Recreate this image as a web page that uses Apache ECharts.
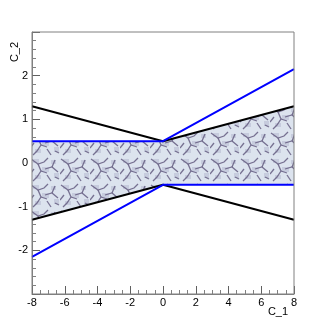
<!DOCTYPE html>
<html>
<head>
<meta charset="utf-8">
<script src="https://cdn.jsdelivr.net/npm/echarts@6/dist/echarts.min.js"></script>
<style>
  html, body { margin: 0; padding: 0; background: #fff; }
  #chart { width: 327px; height: 327px; }
</style>
</head>
<body>
<div id="chart"></div>
<script>
// x positions of the break points
const xs = [-8, 0, 8];
// black lines
const blackUpper = [1.3, 0.5, 1.3];
const blackLower = [-1.3, -0.5, -1.3];
// blue lines
const blueUpper = [0.5, 0.5, 2.15];
const blueLower = [-2.15, -0.5, -0.5];
// shaded band edges
const bandUpper = [0.5, 0.5, 1.3];
const bandLower = [-1.3, -0.5, -0.5];

// marble-ish texture tile, like the ROOT fill pattern
function makeTile() {
  const c = document.createElement('canvas');
  c.width = 30; c.height = 26;
  const g = c.getContext('2d');
  g.fillStyle = '#dce3ee';
  g.fillRect(0, 0, 30, 26);
  // soft blotches
  g.fillStyle = 'rgba(170,172,200,0.45)';
  [[3, 3, 6, 4], [12, 11, 7, 5], [21, 4, 5, 4], [24, 17, 5, 5], [5, 19, 6, 4]].forEach(r => g.fillRect(r[0], r[1], r[2], r[3]));
  g.strokeStyle = 'rgba(100,92,128,0.85)';
  g.lineWidth = 1.3;
  const strokes = [
    [[1, 3], [8, 8], [14, 6], [18, 2]],
    [[8, 8], [11, 15], [7, 21], [3, 25]],
    [[11, 15], [17, 17]],
    [[15, 13], [22, 11], [28, 16]],
    [[22, 11], [25, 4]],
    [[4, 13], [0, 18]],
    [[17, 19], [21, 25]],
    [[25, 21], [29, 23]]
  ];
  strokes.forEach(s => {
    g.beginPath();
    g.moveTo(s[0][0], s[0][1]);
    for (let i = 1; i < s.length; i++) g.lineTo(s[i][0], s[i][1]);
    g.stroke();
  });
  return c;
}

let myChart = echarts.init(document.getElementById('chart'));

const lineOf = (ys, color) => ({
  type: 'line',
  data: xs.map((x, i) => [x, ys[i]]),
  symbol: 'none',
  lineStyle: { color: color, width: 2 },
  z: 5
});

let option = {
  animation: false,
  grid: { left: 32, right: 33, top: 32, bottom: 33 },
  xAxis: {
    type: 'value',
    min: -8, max: 8, interval: 2,
    axisLine: { show: true, onZero: false, lineStyle: { color: '#808080', width: 1 } },
    axisTick: { show: true, inside: true, length: 8, lineStyle: { color: '#606060' } },
    minorTick: { show: true, splitNumber: 4, length: 4, lineStyle: { color: '#808080' } },
    splitLine: { show: false },
    axisLabel: { color: '#000', fontFamily: 'Liberation Sans', fontSize: 11, margin: 3 }
  },
  yAxis: {
    type: 'value',
    min: -3, max: 3, interval: 1,
    axisLine: { show: true, onZero: false, lineStyle: { color: '#808080', width: 1 } },
    axisTick: { show: true, inside: true, length: 8, lineStyle: { color: '#606060' } },
    minorTick: { show: true, splitNumber: 5, length: 4, lineStyle: { color: '#808080' } },
    splitLine: { show: false },
    axisLabel: { color: '#000', fontFamily: 'Liberation Sans', fontSize: 11, margin: 4,
      showMinLabel: false, showMaxLabel: false }
  },
  graphic: [
    { type: 'rect', shape: { x: 32, y: 32, width: 262, height: 262 },
      style: { fill: 'none', stroke: '#808080', lineWidth: 1 }, z: 10, silent: true },
    { type: 'text', x: 15, y: 52, rotation: Math.PI / 2,
      style: { text: 'C_2', fill: '#000', font: '11px "Liberation Sans"', align: 'center', verticalAlign: 'middle' } },
    { type: 'text', x: 278, y: 312,
      style: { text: 'C_1', fill: '#000', font: '11px "Liberation Sans"', align: 'center', verticalAlign: 'middle' } }
  ],
  series: [
    {
      type: 'custom',
      data: [0],
      z: 1,
      renderItem: (params, api) => {
        const pts = [];
        xs.forEach((x, i) => pts.push(api.coord([x, bandUpper[i]])));
        for (let i = xs.length - 1; i >= 0; i--) pts.push(api.coord([xs[i], bandLower[i]]));
        return {
          type: 'polygon',
          shape: { points: pts },
          style: { fill: { image: makeTile(), repeat: 'repeat' } }
        };
      }
    },
    lineOf(blackUpper, '#000'),
    lineOf(blackLower, '#000'),
    lineOf(blueUpper, '#0000ff'),
    lineOf(blueLower, '#0000ff')
  ]
};
myChart.setOption(option);
</script>
</body>
</html>
